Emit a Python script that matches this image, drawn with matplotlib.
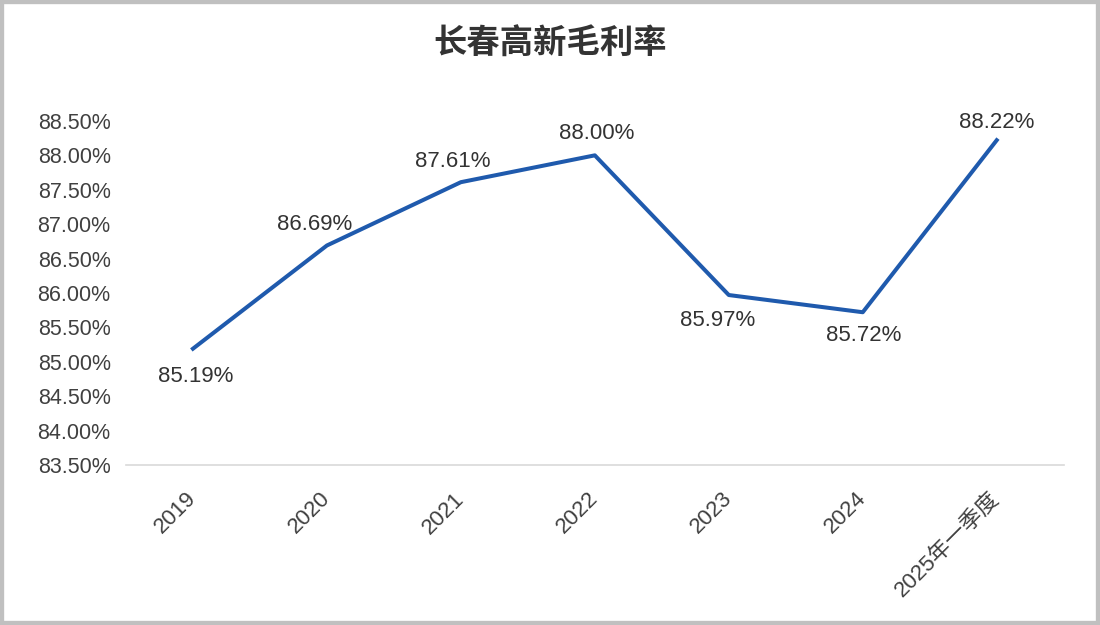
import matplotlib
matplotlib.use('Agg')
import matplotlib.pyplot as plt
import matplotlib.patches as mpatches

plt.rcParams['font.family'] = ['Liberation Sans', 'Noto Sans CJK SC', 'DejaVu Sans']

# data
periods = ['2019', '2020', '2021', '2022', '2023', '2024', '2025年一季度']
margin = [85.19, 86.69, 87.61, 88.00, 85.97, 85.72, 88.22]
# label offsets (points) relative to each data point
label_dx = [2, -9, -6, 1, -8, 1, 0]
label_dy = [-20, 15, 15, 16, -18, -17, 13]

fig = plt.figure(figsize=(11, 6.25), dpi=100)
ax = fig.add_axes([0.1145, 0.256, 0.8525, 0.5505])

x = list(range(len(periods)))
ax.plot(x, margin, color='#1f5aad', linewidth=2.9, solid_joinstyle='round')

for i, v in enumerate(margin):
    ax.annotate('%.2f%%' % v, (x[i], v), xytext=(label_dx[i], label_dy[i]),
                textcoords='offset points', ha='center', va='center',
                fontsize=16, color='#333333')

ax.set_xlim(-0.5, len(periods) - 0.5)
ax.set_ylim(83.5, 88.5)
ax.set_yticks([83.5 + 0.5 * k for k in range(11)])
ax.set_yticklabels(['%.2f%%' % (83.5 + 0.5 * k) for k in range(11)])
ax.set_xticks(x)
ax.set_xticklabels(periods, rotation=45, ha='right', va='center', rotation_mode='anchor')

ax.tick_params(axis='both', length=0, labelsize=16, labelcolor='#404040')
ax.tick_params(axis='y', labelsize=15.5, pad=11)
ax.tick_params(axis='x', pad=22)
for s in ['top', 'right', 'left']:
    ax.spines[s].set_visible(False)
ax.spines['bottom'].set_color('#d9d9d9')
ax.spines['bottom'].set_linewidth(1.2)

fig.text(0.5, 0.928, '长春高新毛利率', ha='center', va='center',
         fontsize=24, fontweight='bold', color='#333333')

# grey frame around the picture
frame = mpatches.Rectangle((0, 0), 1, 1, transform=fig.transFigure, fill=False,
                           edgecolor='#c0c0c0', linewidth=6)
fig.patches.append(frame)

fig.savefig('out.png', dpi=100)
